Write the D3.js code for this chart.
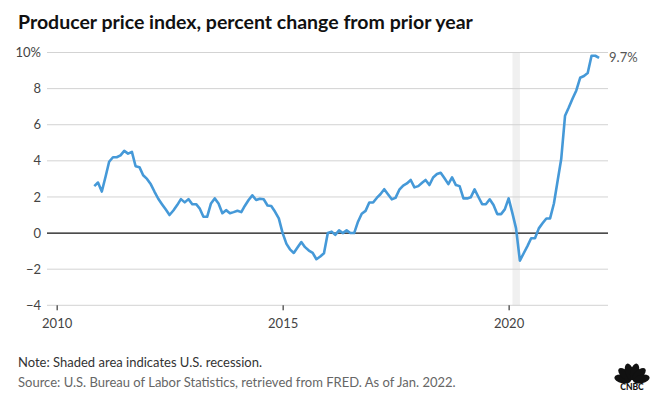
<!DOCTYPE html>
<html>
<head>
<meta charset="utf-8">
<script src="https://cdn.jsdelivr.net/npm/d3@7"></script>
<style>
  body { margin: 0; background: #fff; }
  text { font-family: Lato, "Open Sans", sans-serif; }
</style>
</head>
<body>
<div id="chart"></div>
<script>
// PPI final demand, % change from a year earlier, monthly Nov 2010 - Jan 2022
const startMonth = new Date(2010, 10, 1);
const values = [
  2.6, 2.8,                                                        // 2010 Nov-Dec
  2.3, 3.15, 3.95, 4.2, 4.2, 4.3, 4.55, 4.4, 4.5, 3.7, 3.65, 3.2,  // 2011
  3.0, 2.7, 2.3, 1.9, 1.6, 1.3, 1.0, 1.25, 1.55, 1.88, 1.7, 1.88, // 2012
  1.6, 1.6, 1.37, 0.9, 0.9, 1.64, 1.92, 1.64, 1.1, 1.27, 1.1, 1.16, // 2013
  1.24, 1.16, 1.5, 1.83, 2.09, 1.83, 1.9, 1.87, 1.53, 1.5, 1.18, 0.81, // 2014
  0.0, -0.6, -0.9, -1.1, -0.8, -0.5, -0.78, -0.97, -1.1, -1.45, -1.3, -1.12, // 2015
  0.0, 0.08, -0.1, 0.15, 0.0, 0.15, 0.0, 0.0, 0.63, 1.07, 1.23, 1.69, // 2016
  1.69, 1.96, 2.15, 2.43, 2.15, 1.87, 1.95, 2.4, 2.63, 2.75, 2.94, 2.53, // 2017
  2.6, 2.79, 2.94, 2.66, 3.08, 3.27, 3.34, 3.03, 2.71, 3.08, 2.66, 2.6, // 2018
  1.92, 1.92, 1.98, 2.42, 2.01, 1.6, 1.6, 1.87, 1.55, 1.05, 1.05, 1.31, // 2019
  1.92, 1.09, 0.26, -1.53, -1.13, -0.72, -0.29, -0.29, 0.26, 0.54, 0.81, 0.81, // 2020
  1.64, 2.94, 4.1, 6.5, 6.95, 7.45, 7.9, 8.6, 8.7, 8.86, 9.82, 9.82, // 2021
  9.7                                                              // 2022 Jan
];
const yTicks = [-4, -2, 0, 2, 4, 6, 8, 10];
const xTicks = [2010, 2015, 2020];
const recession = [new Date(2020, 1, 1), new Date(2020, 3, 1)];
const lastLabel = "9.7%";

const data = values.map((v, i) => ({
  date: new Date(startMonth.getFullYear(), startMonth.getMonth() + i, 1),
  value: v
}));

const width = 656, height = 397;

const svg = d3.select("#chart")
  .append("svg")
  .attr("width", width)
  .attr("height", height);

const x = d3.scaleTime([new Date(2009, 9, 15), new Date(2022, 2, 14)], [47, 608]);
const y = d3.scaleLinear([-4, 10], [305.3, 52.5]);

// title
svg.append("text")
  .attr("x", 18)
  .attr("y", 28.5)
  .attr("font-size", 19.5)
  .attr("font-weight", 700)
  .attr("fill", "#111")
  .text("Producer price index, percent change from prior year");

// recession band
svg.append("rect")
  .attr("x", x(recession[0]))
  .attr("y", y(10))
  .attr("width", x(recession[1]) - x(recession[0]))
  .attr("height", y(-4) - y(10))
  .attr("fill", "#f0f0f0");

// grid + y labels
svg.append("g")
  .selectAll("line")
  .data(yTicks.filter(d => d !== 0))
  .join("line")
  .attr("x1", 47).attr("x2", 608)
  .attr("y1", d => y(d)).attr("y2", d => y(d))
  .attr("stroke", "#d3d3d3")
  .attr("stroke-width", 1);

svg.append("g")
  .selectAll("text")
  .data(yTicks)
  .join("text")
  .attr("x", 41)
  .attr("y", d => y(d))
  .attr("dy", "0.35em")
  .attr("text-anchor", "end")
  .attr("font-size", 13)
  .attr("fill", "#444")
  .text(d => d === 10 ? "10%" : (d < 0 ? "\u2212" + Math.abs(d) : d));

// x axis ticks
const xAxis = svg.append("g")
  .attr("transform", `translate(0,${y(-4)})`)
  .call(d3.axisBottom(x)
    .tickValues(xTicks.map(yr => new Date(yr, 0, 1)))
    .tickFormat(d3.timeFormat("%Y"))
    .tickSize(5)
    .tickPadding(8));
xAxis.select(".domain").remove();
xAxis.selectAll(".tick line").attr("stroke", "#111");
xAxis.selectAll(".tick text")
  .attr("font-family", "Lato, 'Open Sans', sans-serif")
  .attr("font-size", 13)
  .attr("fill", "#444");

// zero line
svg.append("line")
  .attr("x1", 47).attr("x2", 608)
  .attr("y1", y(0)).attr("y2", y(0))
  .attr("stroke", "#111")
  .attr("stroke-width", 1.2);

// the series
const line = d3.line()
  .x(d => x(d.date))
  .y(d => y(d.value));

svg.append("path")
  .datum(data)
  .attr("d", line)
  .attr("fill", "none")
  .attr("stroke", "#4599d8")
  .attr("stroke-width", 2.6)
  .attr("stroke-linejoin", "round");

const last = data[data.length - 1];
svg.append("text")
  .attr("x", x(last.date) + 10)
  .attr("y", y(last.value))
  .attr("dy", "0.35em")
  .attr("font-size", 13)
  .attr("fill", "#555")
  .text(lastLabel);

// footer
svg.append("text")
  .attr("x", 18)
  .attr("y", 367)
  .attr("font-size", 13)
  .attr("fill", "#333")
  .text("Note: Shaded area indicates U.S. recession.");

svg.append("text")
  .attr("x", 18)
  .attr("y", 386.5)
  .attr("font-size", 13)
  .attr("fill", "#666")
  .text("Source: U.S. Bureau of Labor Statistics, retrieved from FRED. As of Jan. 2022.");

// CNBC peacock (simplified)
const logo = svg.append("g").attr("transform", "translate(632,381)");
[-78, -47, -16, 16, 47, 78].forEach(a => {
  logo.append("ellipse")
    .attr("cx", 0).attr("cy", -9.5)
    .attr("rx", 4.2).attr("ry", 8.5)
    .attr("fill", "#111")
    .attr("transform", `rotate(${a})`);
});
logo.append("text")
  .attr("x", 0).attr("y", 9)
  .attr("text-anchor", "middle")
  .attr("font-size", 8.5)
  .attr("font-weight", 900)
  .attr("font-family", "'DejaVu Sans', sans-serif")
  .attr("fill", "#111")
  .text("CNBC");
</script>
</body>
</html>
